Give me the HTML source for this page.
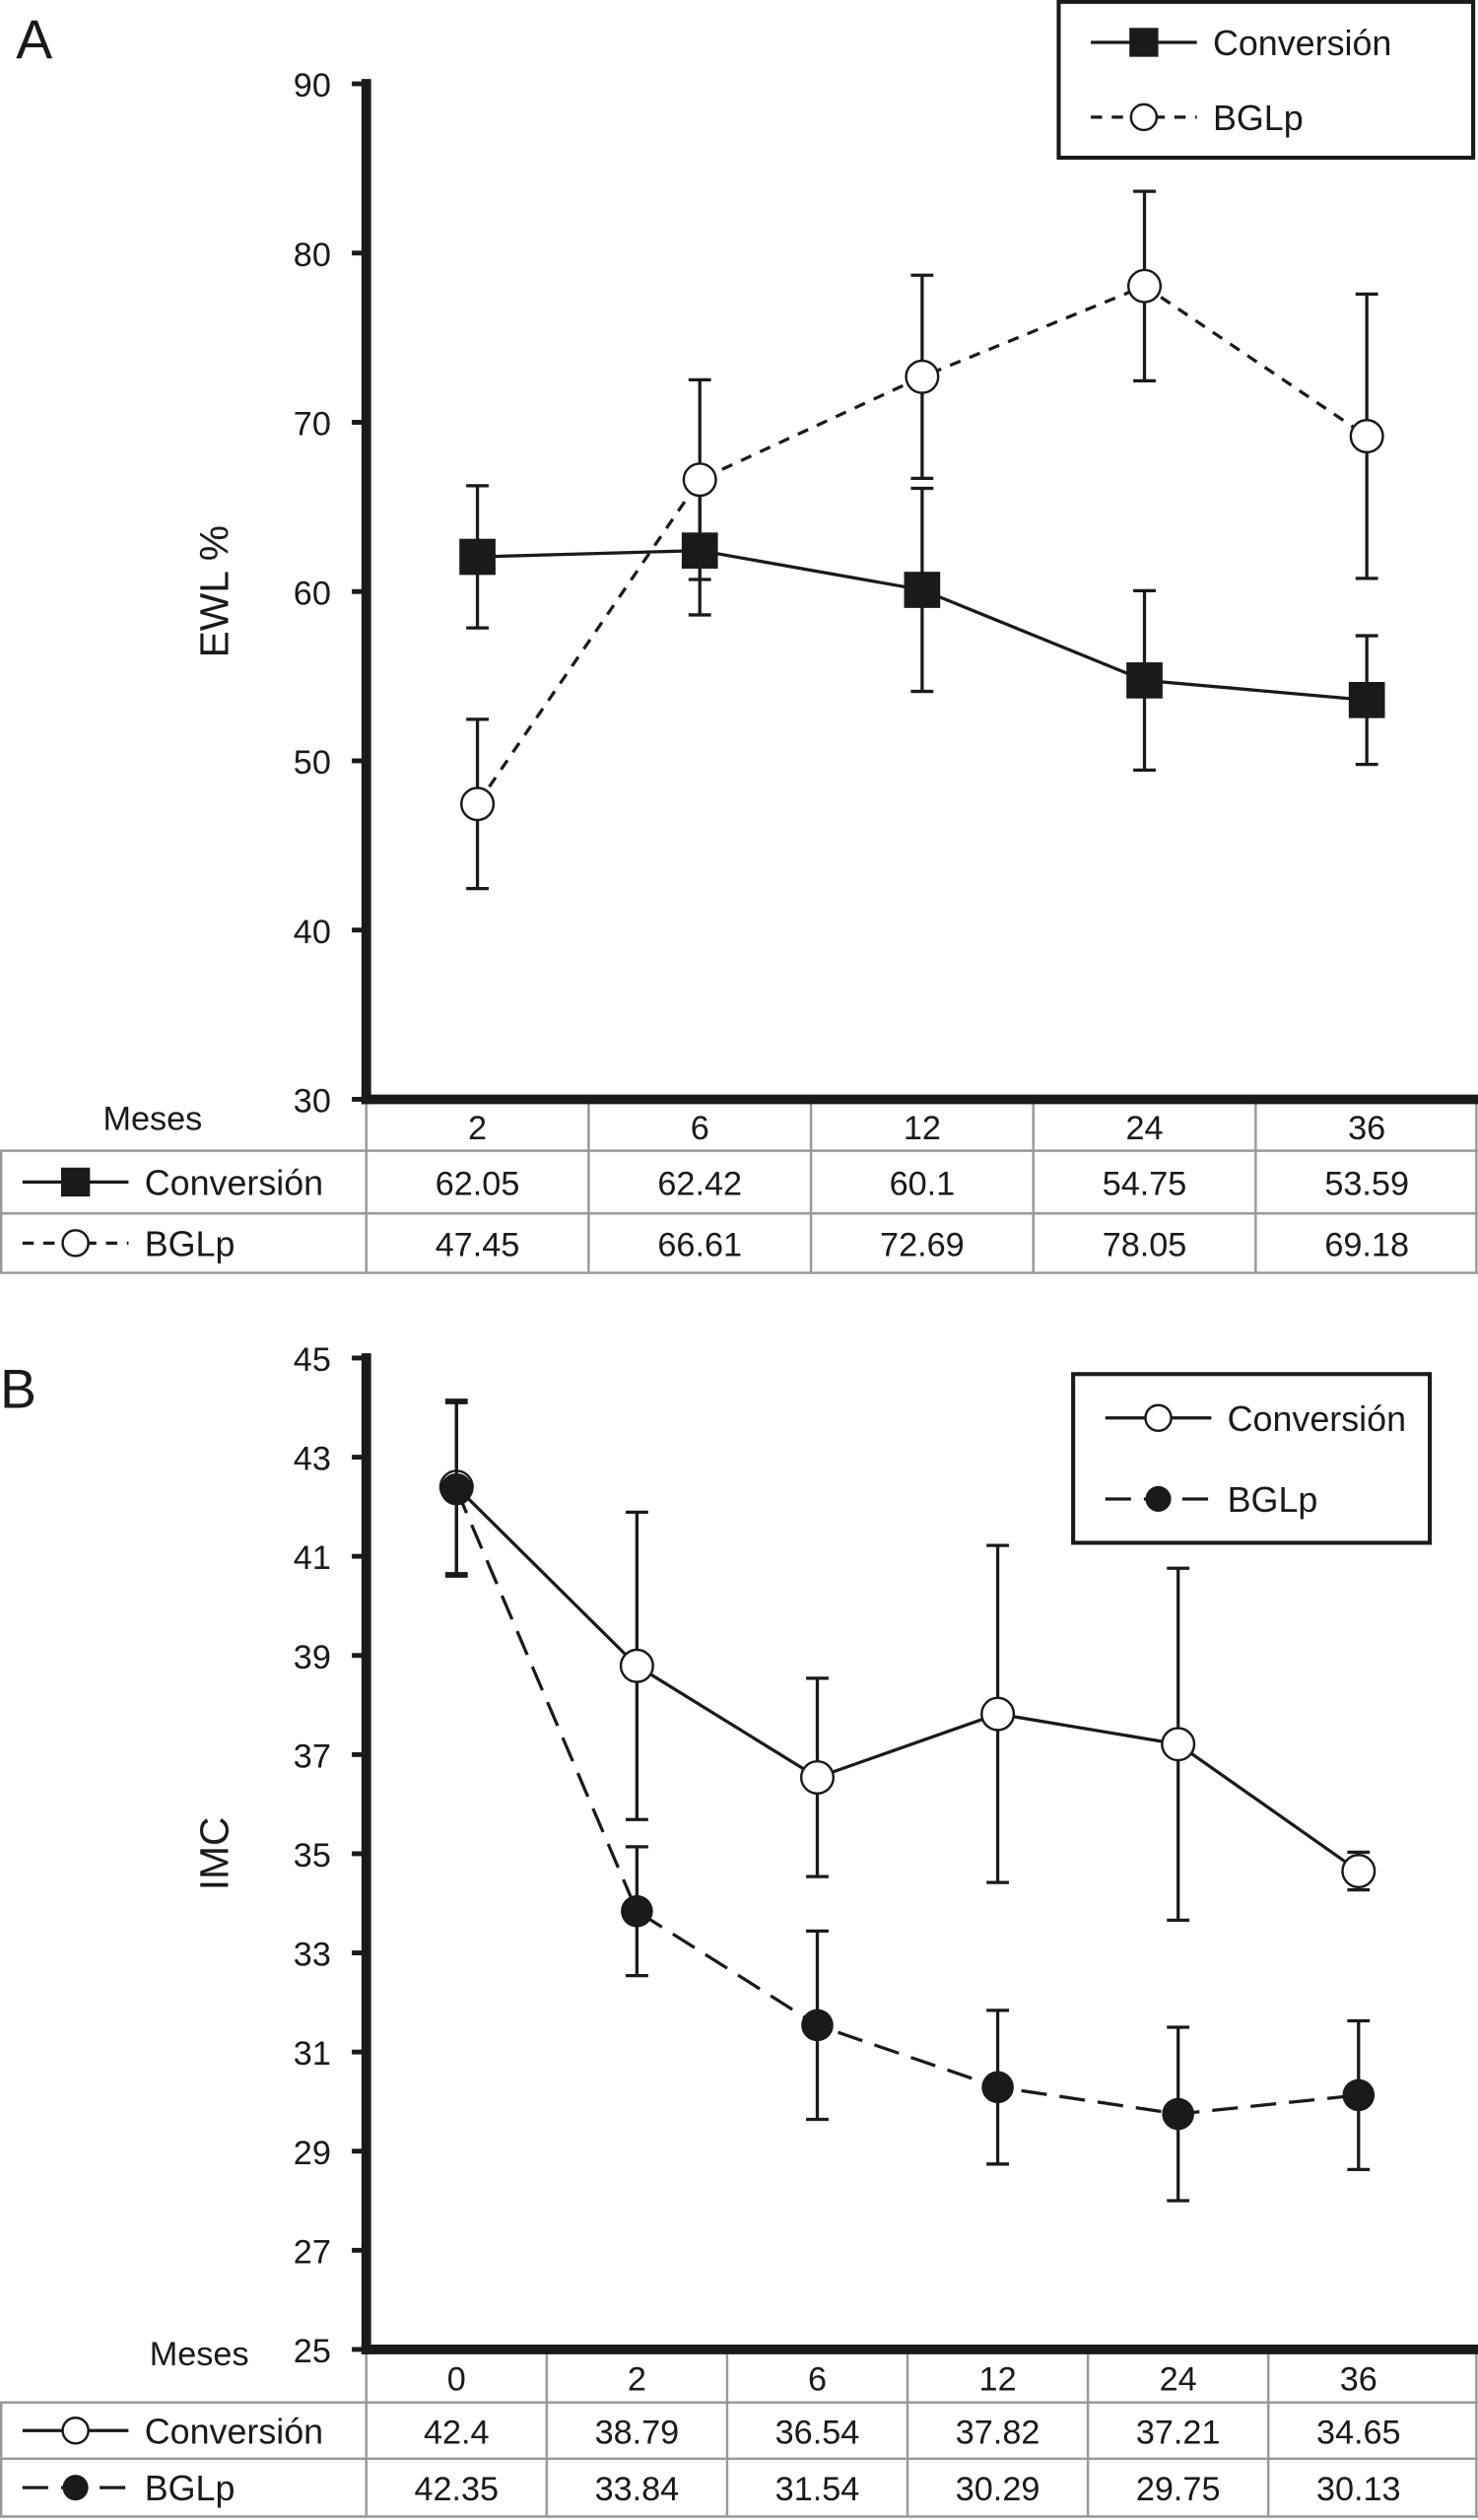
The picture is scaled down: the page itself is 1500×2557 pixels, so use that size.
<!DOCTYPE html>
<html><head><meta charset="utf-8"><style>
html,body{margin:0;padding:0;background:#fff}
svg{display:block}
text{font-family:"Liberation Sans",Arial,sans-serif;fill:#1a1a1a}
</style></head><body>
<svg id="fig" width="1500" height="2557" viewBox="0 0 920 1568" xmlns="http://www.w3.org/2000/svg">
<g id="A"></g>
<g id="B"></g>
</svg>
<script>
// Panel A data
const catsA = ["2","6","12","24","36"];
const convA = [62.05,62.42,60.1,54.75,53.59];
const convAErr = [4.2,3.8,6.0,5.3,3.8];
const bglA = [47.45,66.61,72.69,78.05,69.18];
const bglAErr = [5.0,5.9,6.0,5.6,8.4];
const ticksA = [30,40,50,60,70,80,90];
// Panel B data
const catsB = ["0","2","6","12","24","36"];
const convB = [42.4,38.79,36.54,37.82,37.21,34.65];
const convBErr = [1.75,3.1,2.0,3.4,3.55,0.38];
const bglB = [42.35,33.84,31.54,30.29,29.75,30.13];
const bglBErr = [1.75,1.3,1.9,1.55,1.75,1.5];
const ticksB = [25,27,29,31,33,35,37,39,41,43,45];

const NS="http://www.w3.org/2000/svg";
function mk(p,tag,attrs,txt){const e=document.createElementNS(NS,tag);for(const k in attrs)e.setAttribute(k,attrs[k]);if(txt!==undefined)e.textContent=txt;p.appendChild(e);return e;}

function panel(g,cfg){
  const {letter,letterY,ymin,ymax,y0,y1,ticks,cats,colL,cw,ylabel,s1,s1e,s2,s2e,m1,m2,dash2,rows,legend}=cfg;
  const ys=v=>y1-(v-ymin)/(ymax-ymin)*(y1-y0);
  const xs=i=>colL+cw*(i+0.5);
  let t=mk(g,'text',{x:cfg.letterX,y:letterY,'font-size':34},letter);
  
  t=mk(g,'text',{x:0,y:0,'font-size':25,'text-anchor':'middle',transform:`translate(142,${(y0+y1)/2}) rotate(-90)`},ylabel);
  
  const tb=mk(g,'g',{stroke:'#999','stroke-width':1.5,fill:'none'});
  
  const [r0,r1,r2,r3]=rows;
  mk(tb,'line',{x1:colL,y1:r0,x2:colL,y2:r3});
  for(let i=1;i<cats.length;i++){mk(tb,'line',{x1:colL+cw*i,y1:r0,x2:colL+cw*i,y2:r3});}
  mk(tb,'line',{x1:919,y1:r0,x2:919,y2:r3});
  mk(tb,'line',{x1:0,y1:r1,x2:920,y2:r1});
  mk(tb,'line',{x1:0,y1:r2,x2:920,y2:r2});
  mk(tb,'line',{x1:0,y1:r3,x2:920,y2:r3});
  mk(tb,'line',{x1:0.75,y1:r1,x2:0.75,y2:r3});
  t=mk(g,'text',{x:cfg.mesesX,y:cfg.mesesY,'font-size':21,'text-anchor':'middle'},'Meses');
  
  cats.forEach((c,i)=>{
    let e=mk(g,'text',{x:xs(i),y:(r0+r1)/2+8,'font-size':21,'text-anchor':'middle'},c);
    
    e=mk(g,'text',{x:xs(i),y:(r1+r2)/2+8,'font-size':21,'text-anchor':'middle'},String(s1[i]));
    
    e=mk(g,'text',{x:xs(i),y:(r2+r3)/2+8,'font-size':21,'text-anchor':'middle'},String(s2[i]));
    
  });
  function legendSym(p,x,y,marker,dash,name){
    const gg=mk(p,'g',{});
    
    mk(gg,'line',{x1:x,y1:y,x2:x+66,y2:y,stroke:'#1a1a1a','stroke-width':2,'stroke-dasharray':dash||'none'});
    drawMarker(gg,x+33,y,marker,true);
    mk(gg,'text',{x:x+76,y:y+8,'font-size':22},name);
  }
  legendSym(g,14,(r1+r2)/2,m1,null,'Conversión');
  legendSym(g,14,(r2+r3)/2,m2,dash2,'BGLp');
  const ax=mk(g,'g',{});
  
  mk(ax,'line',{x1:colL,y1:y0-3,x2:colL,y2:y1+3,stroke:'#1a1a1a','stroke-width':6});
  ticks.forEach(v=>{
    mk(ax,'line',{x1:colL-9,y1:ys(v),x2:colL,y2:ys(v),stroke:'#1a1a1a','stroke-width':3});
    const e=mk(ax,'text',{x:colL-22,y:ys(v)+8,'font-size':21,'text-anchor':'end'},String(v));
    
  });
  const xa=mk(g,'line',{x1:colL-3,y1:y1,x2:920,y2:y1,stroke:'#1a1a1a','stroke-width':6});
  
  function series(vals,errs,marker,dash,name){
    const sg=mk(g,'g',{});
    
    vals.forEach((v,i)=>{
      const x=xs(i);
      mk(sg,'line',{x1:x,y1:ys(v+errs[i]),x2:x,y2:ys(v-errs[i]),stroke:'#1a1a1a','stroke-width':2});
      mk(sg,'line',{x1:x-7,y1:ys(v+errs[i]),x2:x+7,y2:ys(v+errs[i]),stroke:'#1a1a1a','stroke-width':2});
      mk(sg,'line',{x1:x-7,y1:ys(v-errs[i]),x2:x+7,y2:ys(v-errs[i]),stroke:'#1a1a1a','stroke-width':2});
    });
    mk(sg,'polyline',{points:vals.map((v,i)=>xs(i)+','+ys(v)).join(' '),fill:'none',stroke:'#1a1a1a','stroke-width':2,'stroke-dasharray':dash||'none'});
    vals.forEach((v,i)=>{const m=drawMarker(sg,xs(i),ys(v),marker,false);
      });
  }
  series(s1,s1e,m1,null,'conversion');
  series(s2,s2e,m2,dash2,'bglp');
  const lg=mk(g,'g',{});
  
  const L=legend;
  mk(lg,'rect',{x:L.x,y:L.y,width:L.w,height:L.h,fill:'#fff',stroke:'#1a1a1a','stroke-width':2.5});
  legendSym(lg,L.x+20,L.y+L.h*0.26,m1,null,'Conversión');
  legendSym(lg,L.x+20,L.y+L.h*0.74,m2,dash2,'BGLp');
}
function drawMarker(p,x,y,type,small){
  const s=small?1:1.25;
  if(type==='sq') return mk(p,'rect',{x:x-9*s,y:y-9*s,width:18*s,height:18*s,fill:'#1a1a1a'});
  if(type==='open') return mk(p,'circle',{cx:x,cy:y,r:8*s,fill:'#fff',stroke:'#1a1a1a','stroke-width':1.5});
  return mk(p,'circle',{cx:x,cy:y,r:8*s,fill:'#1a1a1a'});
}
panel(document.getElementById('A'),{letter:'A',letterX:10,letterY:36,ymin:30,ymax:90,y0:52,y1:684,ticks:ticksA,cats:catsA,colL:228,cw:138.4,ylabel:'EWL %',
  s1:convA,s1e:convAErr,s2:bglA,s2e:bglAErr,m1:'sq',m2:'open',dash2:'7,6',rows:[686,716,755,792],mesesX:95,mesesY:703,
  legend:{x:659,y:1,w:258,h:97}});
panel(document.getElementById('B'),{letter:'B',letterX:0,letterY:876,ymin:25,ymax:45,y0:845,y1:1462,ticks:ticksB,cats:catsB,colL:228,cw:112.3,ylabel:'IMC',
  s1:convB,s1e:convBErr,s2:bglB,s2e:bglBErr,m1:'open',m2:'fill',dash2:'16,8',rows:[1464,1495,1530,1566],mesesX:124,mesesY:1472,
  legend:{x:668,y:855,w:222,h:105}});
</script>
</body></html>
